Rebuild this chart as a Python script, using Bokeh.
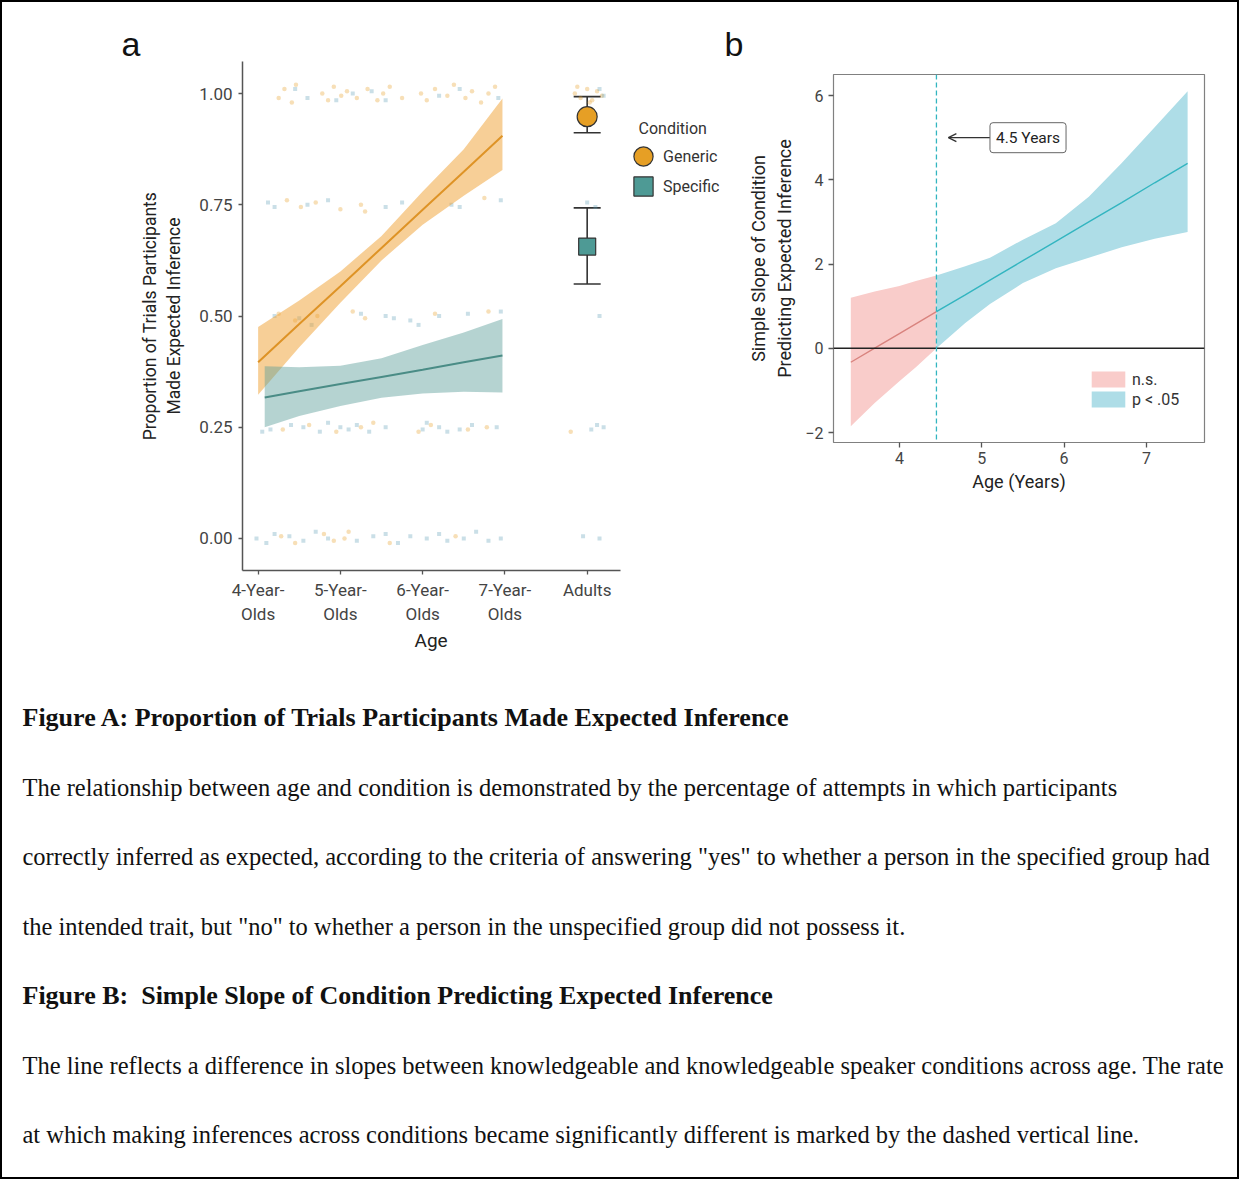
from bokeh.plotting import figure
from bokeh.layouts import row, column
from bokeh.models import (ColumnDataSource, Range1d, FixedTicker, NumeralTickFormatter, Title,
                          Whisker, TeeHead, Legend, LegendItem, Label, Span, Arrow, OpenHead)
from bokeh.core.properties import value
from bokeh.embed import file_html
from bokeh.resources import INLINE

# ---------------- Panel a data ----------------
age_ticks = [4, 5, 6, 7, 8]
age_labels = ["4-Year-\nOlds", "5-Year-\nOlds", "6-Year-\nOlds", "7-Year-\nOlds", "Adults"]
prop_ticks = [0.0, 0.25, 0.5, 0.75, 1.0]

gen_fit_x = [4.00, 4.50, 5.00, 5.50, 6.00, 6.50, 6.97]
gen_fit_y = [0.396, 0.482, 0.567, 0.653, 0.739, 0.824, 0.905]
gen_fit_lo = [0.323, 0.430, 0.530, 0.625, 0.705, 0.770, 0.828]
gen_fit_hi = [0.475, 0.535, 0.600, 0.680, 0.780, 0.875, 0.989]

spec_fit_x = [4.08, 4.50, 5.00, 5.50, 6.00, 6.50, 6.97]
spec_fit_y = [0.317, 0.331, 0.347, 0.363, 0.379, 0.396, 0.411]
spec_fit_lo = [0.250, 0.275, 0.298, 0.316, 0.326, 0.330, 0.328]
spec_fit_hi = [0.387, 0.385, 0.388, 0.405, 0.435, 0.463, 0.493]

adult_x = [8, 8]
adult_mean = [0.948, 0.656]
adult_lo = [0.912, 0.572]
adult_hi = [0.993, 0.743]

gen_pts_x = [4.25, 4.32, 4.41, 4.46, 4.78, 4.85, 4.92, 5.01, 5.08, 5.20, 5.33, 5.45, 5.52, 5.60, 5.75,
             5.98, 6.05, 6.15, 6.30, 6.38, 6.52, 6.60, 6.71, 6.80, 6.88,
             7.85, 7.92, 8.00, 8.06, 8.12, 8.18, 7.88, 8.03,
             4.35, 4.52, 4.70, 5.00, 5.25, 5.30, 6.75,
             4.25, 4.45, 4.72, 5.15, 5.30, 6.15, 6.80,
             4.30, 4.62, 4.95, 5.25, 5.40, 5.95, 6.10, 6.55, 6.78, 7.80,
             4.28, 4.45, 4.80, 4.92, 5.05, 5.10, 5.60, 6.40]
gen_pts_y = [0.99, 1.01, 0.98, 1.02, 1.00, 0.985, 1.015, 0.995, 1.005, 0.99, 1.01, 0.985, 1.00, 1.015, 0.99,
             1.00, 0.985, 1.01, 0.995, 1.02, 0.99, 1.005, 0.98, 1.00, 1.015,
             1.00, 0.99, 1.01, 0.985, 1.005, 0.995, 1.015, 0.98,
             0.76, 0.745, 0.755, 0.74, 0.75, 0.735, 0.765,
             0.505, 0.49, 0.50, 0.51, 0.495, 0.505, 0.51,
             0.245, 0.255, 0.24, 0.25, 0.26, 0.24, 0.255, 0.245, 0.25, 0.24,
             0.005, -0.01, 0.01, -0.005, 0.0, 0.015, -0.01, 0.005]

spec_pts_x = [4.45, 4.60, 4.95, 5.15, 5.38, 5.55, 6.20, 6.45, 6.92, 8.15, 8.20,
              4.12, 4.20, 4.60, 4.85, 5.55, 5.75, 6.35, 6.45, 6.95, 8.00, 8.10,
              4.20, 4.50, 4.65, 5.25, 5.55, 5.65, 5.85, 5.95, 6.20, 6.55, 6.95, 8.15,
              4.05, 4.15, 4.40, 4.55, 4.75, 4.85, 5.00, 5.10, 5.20, 5.35, 5.55, 6.00, 6.05, 6.20,
              6.30, 6.45, 6.60, 6.90, 8.05, 8.12, 8.20,
              3.98, 4.10, 4.20, 4.38, 4.55, 4.70, 4.85, 5.20, 5.40, 5.55, 5.70, 5.85, 6.05, 6.20,
              6.30, 6.50, 6.65, 6.80, 6.95, 7.95, 8.15]
spec_pts_y = [1.01, 0.99, 0.985, 1.0, 1.005, 0.985, 0.995, 1.01, 0.99, 1.01, 0.995,
              0.755, 0.745, 0.75, 0.76, 0.745, 0.755, 0.75, 0.745, 0.76, 0.755, 0.745,
              0.5, 0.495, 0.48, 0.505, 0.5, 0.495, 0.49, 0.48, 0.5, 0.505, 0.51, 0.5,
              0.24, 0.245, 0.255, 0.25, 0.24, 0.26, 0.25, 0.245, 0.255, 0.24, 0.25, 0.245, 0.26, 0.25,
              0.24, 0.245, 0.255, 0.25, 0.245, 0.255, 0.25,
              0.0, -0.01, 0.01, 0.005, -0.005, 0.015, 0.0, -0.005, 0.005, 0.01, -0.01, 0.005, 0.0, 0.01,
              -0.005, 0.0, 0.015, -0.005, 0.0, 0.005, 0.0]

# ---------------- Panel b data ----------------
slope_x_ticks = [4, 5, 6, 7]
slope_y_ticks = [-2, 0, 2, 4, 6]
age_ns = [3.41, 3.70, 4.00, 4.20, 4.45]
slope_ns = [-0.33, 0.005, 0.351, 0.582, 0.87]
ns_lo = [-1.85, -1.30, -0.78, -0.45, 0.0]
ns_hi = [1.20, 1.35, 1.48, 1.60, 1.73]
age_sig = [4.45, 4.80, 5.10, 5.50, 5.90, 6.30, 6.70, 7.10, 7.50]
slope_sig = [0.87, 1.27, 1.62, 2.08, 2.54, 3.00, 3.46, 3.93, 4.39]
sig_lo = [0.0, 0.60, 1.05, 1.55, 1.90, 2.15, 2.40, 2.60, 2.76]
sig_hi = [1.73, 1.95, 2.15, 2.58, 2.97, 3.60, 4.40, 5.25, 6.10]
threshold_age = 4.45
note_text = "4.5 Years"
note_x_start, note_x_end, note_y = 5.10, 4.595, 5.0

# ---------------- Caption ----------------
cap_a_title = "Figure A: Proportion of Trials Participants Made Expected Inference"
cap_a_lines = ["The relationship between age and condition is demonstrated by the percentage of attempts in which participants",
               "correctly inferred as expected, according to the criteria of answering \"yes\" to whether a person in the specified group had",
               "the intended trait, but \"no\" to whether a person in the unspecified group did not possess it."]
cap_b_title = "Figure B:\u00a0 Simple Slope of Condition Predicting Expected Inference"
cap_b_lines = ["The line reflects a difference in slopes between knowledgeable and knowledgeable speaker conditions across age. The rate",
               "at which making inferences across conditions became significantly different is marked by the dashed vertical line."]

FONT = "Roboto"
SANS = "Liberation Sans"
SERIF = "Liberation Serif"
ORANGE = "#E69F25"
TEAL = "#4E9A95"
PT_BLUE = "#5E9FB5"
AXIS_GREY = "#555555"
TXT_GREY = "#444444"


def clear_fig(p):
    p.xgrid.visible = False
    p.ygrid.visible = False
    p.border_fill_color = None
    p.background_fill_color = None


# ================= Panel a =================
# frame extends right to hold the legend; the axis line itself is bounded to the data area
pa = figure(output_backend="svg", toolbar_location=None, frame_align=False,
            frame_width=480, frame_height=509,
            min_border_left=242, min_border_right=3, min_border_top=61, min_border_bottom=106,
            x_range=Range1d(3.81, 9.645), y_range=Range1d(-0.072, 1.072),
            title=Title(text="a", align="left", offset=-121, standoff=-3,
                        text_font=SANS, text_font_size="34px", text_font_style="normal",
                        text_color="#111111"))
clear_fig(pa)
pa.outline_line_color = None

pa.scatter(gen_pts_x, gen_pts_y, marker="circle", size=4.5, fill_color=ORANGE, fill_alpha=0.33, line_color=None)
pa.scatter(spec_pts_x, spec_pts_y, marker="square", size=4, fill_color=PT_BLUE, fill_alpha=0.33, line_color=None)

pa.varea(x=gen_fit_x, y1=gen_fit_lo, y2=gen_fit_hi, fill_color="#F0A030", fill_alpha=0.5)
pa.varea(x=spec_fit_x, y1=spec_fit_lo, y2=spec_fit_hi, fill_color="#5A9E98", fill_alpha=0.45)
pa.line(gen_fit_x, gen_fit_y, line_color="#DE9326", line_width=2)
pa.line(spec_fit_x, spec_fit_y, line_color="#4A8C86", line_width=2)

adult_src = ColumnDataSource(dict(x=adult_x, mean=adult_mean, lo=adult_lo, hi=adult_hi))
wh = Whisker(source=adult_src, base="x", lower="lo", upper="hi", dimension="height",
             line_color="#333333", line_width=1.6,
             lower_head=TeeHead(size=27, line_color="#333333", line_width=1.6),
             upper_head=TeeHead(size=27, line_color="#333333", line_width=1.6), level="underlay")
pa.add_layout(wh)
r_gen = pa.ellipse(x=[adult_x[0]], y=[adult_mean[0]], width=20, height=20,
                   width_units="screen", height_units="screen",
                   fill_color=ORANGE, line_color="#333333", line_width=1.2)
r_spec = pa.rect(x=[adult_x[1]], y=[adult_mean[1]], width=17, height=17,
                 width_units="screen", height_units="screen",
                 fill_color=TEAL, line_color="#333333", line_width=1.2)

for ax in (pa.xaxis[0], pa.yaxis[0]):
    ax.axis_line_color = AXIS_GREY
    ax.axis_line_width = 1.5
    ax.major_tick_line_color = AXIS_GREY
    ax.major_tick_line_width = 1.3
    ax.major_tick_out = 4
    ax.major_tick_in = 0
    ax.minor_tick_line_color = None
    ax.major_label_text_font = FONT
    ax.major_label_text_font_size = "17px"
    ax.major_label_text_color = TXT_GREY
    ax.axis_label_text_font = FONT
    ax.axis_label_text_font_style = "normal"
    ax.axis_label_text_color = "#222222"

pa.xaxis.bounds = (3.81, 8.405)
pa.xaxis.ticker = FixedTicker(ticks=age_ticks)
pa.xaxis.major_label_overrides = {t: l for t, l in zip(age_ticks, age_labels)}
pa.xaxis.major_label_text_line_height = 1.2
pa.xaxis.major_label_standoff = 5
pa.yaxis.ticker = FixedTicker(ticks=prop_ticks)
pa.yaxis.formatter = NumeralTickFormatter(format="0.00")
pa.yaxis.major_label_standoff = 6
pa.yaxis.axis_label = "Proportion of Trials Participants\nMade Expected Inference"
pa.yaxis.axis_label_text_font_size = "17.5px"
pa.yaxis.axis_label_text_line_height = 1.2
pa.yaxis.axis_label_standoff = 12
# x-axis title, placed under the bounded axis (not the widened frame)
pa.add_layout(Title(text="Age", align="left", offset=172, standoff=0,
                    text_font=FONT, text_font_size="19px", text_font_style="normal",
                    text_color="#222222"), "below")

leg_a = Legend(items=[LegendItem(label="Generic", renderers=[r_gen]),
                      LegendItem(label="Specific", renderers=[r_spec])],
               location=(389, 372), orientation="vertical",
               glyph_width=24, glyph_height=24, spacing=6, label_standoff=8,
               padding=0, margin=0, border_line_color=None, background_fill_alpha=0,
               label_text_font=FONT, label_text_font_size="16px", label_text_color="#333333")
pa.add_layout(leg_a)
pa.add_layout(Label(x=396, y=442, x_units="screen", y_units="screen", text="Condition",
                    text_font=FONT, text_font_size="16px", text_color="#333333",
                    text_align="left", text_baseline="middle"))

# ================= Panel b =================
pb = figure(output_backend="svg", toolbar_location=None, frame_align=False,
            frame_width=371, frame_height=368,
            min_border_left=108, min_border_right=35, min_border_top=74, min_border_bottom=234,
            x_range=Range1d(3.2, 7.705), y_range=Range1d(-2.235, 6.5),
            title=Title(text="b", align="left", offset=-109, standoff=24,
                        text_font=SANS, text_font_size="34px", text_font_style="normal",
                        text_color="#111111"))
clear_fig(pb)
pb.outline_line_color = "#808080"
pb.outline_line_width = 1.2

r_ns = pb.varea(x=age_ns, y1=ns_lo, y2=ns_hi, fill_color="#F9CCCA")
r_sig = pb.varea(x=age_sig, y1=sig_lo, y2=sig_hi, fill_color="#AEDDE7")
pb.line(age_ns, slope_ns, line_color="#D9837E", line_width=1.4)
pb.line(age_sig, slope_sig, line_color="#33B5C0", line_width=1.4)
pb.add_layout(Span(location=0, dimension="width", line_color="#222222", line_width=1.5))
pb.add_layout(Span(location=threshold_age, dimension="height", line_color="#33B5C0",
                   line_width=1.3, line_dash="5 3"))
pb.add_layout(Arrow(x_start=note_x_start, y_start=note_y, x_end=note_x_end, y_end=note_y,
                    line_color="#333333", line_width=1.3,
                    end=OpenHead(size=8, line_color="#333333", line_width=1.3)))
pb.add_layout(Label(x=note_x_start, y=note_y, text=note_text, text_font=FONT,
                    text_font_size="15.5px", text_color="#222222", text_align="left",
                    text_baseline="middle", padding=6, border_line_color="#666666",
                    border_line_width=1, background_fill_color="white", border_radius=3))

for ax in (pb.xaxis[0], pb.yaxis[0]):
    ax.axis_line_color = None
    ax.major_tick_line_color = AXIS_GREY
    ax.major_tick_line_width = 1.3
    ax.major_tick_out = 5
    ax.major_tick_in = 0
    ax.minor_tick_line_color = None
    ax.major_label_text_font = FONT
    ax.major_label_text_font_size = "16px"
    ax.major_label_text_color = TXT_GREY
    ax.axis_label_text_font = FONT
    ax.axis_label_text_font_style = "normal"
    ax.axis_label_text_color = "#222222"
    ax.axis_label_text_font_size = "18px"

pb.xaxis.ticker = FixedTicker(ticks=slope_x_ticks)
pb.xaxis.axis_label = "Age (Years)"
pb.xaxis.major_label_standoff = 4
pb.xaxis.axis_label_standoff = 4
pb.yaxis.ticker = FixedTicker(ticks=slope_y_ticks)
pb.yaxis.major_label_overrides = {-2: "\u22122"}
pb.yaxis.major_label_standoff = 5
pb.yaxis.axis_label = "Simple Slope of Condition\nPredicting Expected Inference"
pb.yaxis.axis_label_text_line_height = 1.25
pb.yaxis.axis_label_standoff = 7

leg_b = Legend(items=[LegendItem(label="n.s.", renderers=[r_ns]),
                      LegendItem(label="p < .05", renderers=[r_sig])],
               location=(254, 33), orientation="vertical",
               glyph_width=42, glyph_height=20, spacing=0, label_standoff=3,
               padding=0, margin=0, border_line_color=None, background_fill_alpha=0,
               label_text_font=FONT, label_text_font_size="16px", label_text_color="#333333")
pb.add_layout(leg_b)

# ================= Caption =================
pc = figure(output_backend="svg", toolbar_location=None, frame_align=False,
            frame_width=1239, frame_height=503, min_border=0,
            x_range=Range1d(0, 1239), y_range=Range1d(503, 0),
            x_axis_location=None, y_axis_location=None)
clear_fig(pc)
pc.outline_line_color = None

cap_rows = [(cap_a_title, "bold")] + [(t, "normal") for t in cap_a_lines] + \
           [(cap_b_title, "bold")] + [(t, "normal") for t in cap_b_lines]
first_y, step = 41, 69.5
for style, size in (("bold", "26px"), ("normal", "24.5px")):
    idx = [i for i, (t, s) in enumerate(cap_rows) if s == style]
    pc.text(x=[22] * len(idx), y=[first_y + step * i for i in idx],
            text=[cap_rows[i][0] for i in idx],
            text_font=value(SERIF), text_font_size=size, text_font_style=style,
            text_color="#111111", text_baseline="middle", text_align="left")

layout = column(row(pa, pb), pc,
                styles={"outline": "2px solid #000000", "outline-offset": "-2px",
                        "background-color": "#ffffff"})

open("out.html", "w").write(file_html(layout, INLINE))
